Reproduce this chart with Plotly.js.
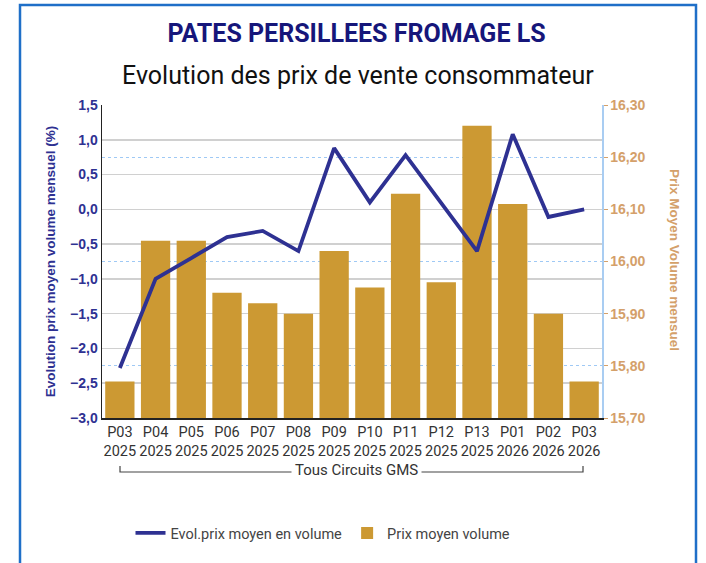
<!DOCTYPE html>
<html>
<head>
<meta charset="utf-8">
<script src="https://cdn.plot.ly/plotly-3.0.1.min.js"></script>
<style>html,body{margin:0;padding:0;background:#fff;}#chart{width:706px;height:563px;}</style>
</head>
<body>
<div id="chart"></div>
<script>
const periods = ["P03<br>2025","P04<br>2025","P05<br>2025","P06<br>2025","P07<br>2025","P08<br>2025","P09<br>2025","P10<br>2025","P11<br>2025","P12<br>2025","P13<br>2025","P01<br>2026","P02<br>2026","P03<br>2026"];
const prixMoyen = [15.77,16.04,16.04,15.94,15.92,15.90,16.02,15.95,16.13,15.96,16.26,16.11,15.90,15.77];
const evolPrix = [-2.28,-1.00,-0.70,-0.40,-0.31,-0.60,0.88,0.10,0.78,0.09,-0.60,1.08,-0.11,0.00];
const leftTicks = [-3,-2.5,-2,-1.5,-1,-0.5,0,0.5,1,1.5];
const rightTicks = [15.70,15.80,15.90,16.00,16.10,16.20,16.30];

const navy = "#2e3192";
const tan = "#cc9933";
const tanText = "#d4a06a";
const W = 706, H = 563, L = 102, R = 104, T = 105, B = 145;
const pw = W - L - R, ph = H - T - B;
const px = x => (x - L) / pw;
const py = y => (H - B - y) / ph;

const data = [
  {type: "bar", name: "Prix moyen volume", x: periods, y: prixMoyen, yaxis: "y",
   marker: {color: tan}, hoverinfo: "y"},
  {type: "scatter", mode: "lines", name: "Evol.prix moyen en volume", x: periods, y: evolPrix, yaxis: "y2",
   line: {color: navy, width: 3.8}}
];

const layout = {
  width: W, height: H,
  margin: {l: L, r: R, t: T, b: B},
  paper_bgcolor: "#fff", plot_bgcolor: "#fff",
  separators: ",.",
  showlegend: true,
  bargap: 0.18,
  title: {text: "<b>PATES PERSILLEES FROMAGE LS</b>", x: 0.505, xanchor: "center", y: 1 - 33/H, yanchor: "middle", yref: "container",
          font: {family: "Roboto, sans-serif", size: 25, color: "#16167a"}},
  xaxis: {type: "category", tickangle: 0, tickfont: {family: "Roboto, sans-serif", size: 14.5, color: "#333"},
          showline: true, linecolor: "#222", linewidth: 1.5, ticks: "", showgrid: false, fixedrange: true},
  yaxis: {side: "right", range: [15.70, 16.30], tickvals: rightTicks, tickformat: ".2f",
          tickfont: {family: "Liberation Sans, Arial, sans-serif", size: 14, color: tanText, weight: "bold"},
          ticks: "outside", ticklen: 4, tickcolor: tanText,
          showgrid: true, gridcolor: "#9fc9f5", griddash: "dot", gridwidth: 1.3,
          showline: true, linecolor: "#a9cdf2", linewidth: 1.5, zeroline: false},
  yaxis2: {side: "left", overlaying: "y", range: [-3, 1.5], tickvals: leftTicks, tickformat: ".1f",
           tickfont: {family: "Liberation Sans, Arial, sans-serif", size: 14, color: navy, weight: "bold"},
           showgrid: true, gridcolor: "#d0d0d0", gridwidth: 1.5, zeroline: false,
           showline: true, linecolor: "#222", linewidth: 1.5, ticks: "",
           title: {text: "<b>Evolution prix moyen volume mensuel (%)</b>", standoff: 11, font: {family: "Liberation Sans, Arial, sans-serif", size: 13.5, color: navy}}},
  legend: {orientation: "h", x: px(323), xanchor: "center", y: py(533), yanchor: "middle",
           font: {family: "Roboto, sans-serif", size: 14.5, color: "#444"}, traceorder: "reversed", itemwidth: 30},
  shapes: [
    {type: "rect", xref: "paper", yref: "paper", x0: px(20), x1: px(696), y0: py(600), y1: py(5),
     line: {color: "#1f6fc8", width: 2.5}, fillcolor: "rgba(0,0,0,0)", layer: "below"},
    {type: "path", xref: "paper", yref: "paper",
     path: `M ${px(120)} ${py(466)} L ${px(120)} ${py(472)} L ${px(583)} ${py(472)} L ${px(583)} ${py(466)}`,
     line: {color: "#444", width: 1.2}}
  ],
  annotations: [
    {text: "Evolution des prix de vente consommateur", xref: "paper", yref: "paper", x: px(358), y: py(75),
     xanchor: "center", yanchor: "middle", showarrow: false,
     font: {family: "Roboto, sans-serif", size: 25, color: "#111"}},
    {text: "Tous Circuits GMS", xref: "paper", yref: "paper", x: px(356), y: py(470),
     xanchor: "center", yanchor: "middle", showarrow: false, bgcolor: "#fff", borderpad: 3,
     font: {family: "Roboto, sans-serif", size: 15, color: "#333"}},
    {text: "<b>Prix Moyen Volume mensuel</b>", xref: "paper", yref: "paper", x: px(675), y: py(260),
     xanchor: "center", yanchor: "middle", showarrow: false, textangle: 90,
     font: {family: "Liberation Sans, Arial, sans-serif", size: 13.5, color: tanText}}
  ]
};

Plotly.newPlot("chart", data, layout, {displayModeBar: false, staticPlot: true});
</script>
</body>
</html>
